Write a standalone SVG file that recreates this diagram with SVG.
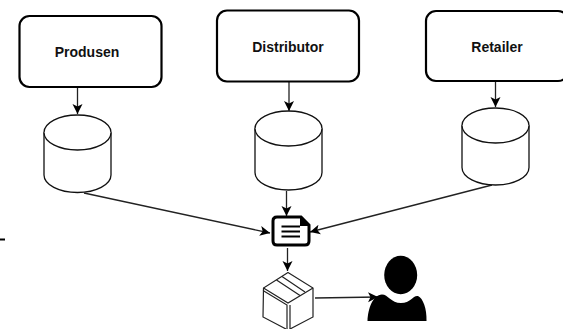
<svg xmlns="http://www.w3.org/2000/svg" width="563" height="329" viewBox="0 0 563 329">
<style>
.box{fill:#fff;stroke:#000;stroke-width:2.2}
.cyl{fill:#fff;stroke:#111;stroke-width:1.3}
.lbl{font-family:"Liberation Sans",Arial,sans-serif;font-weight:700;font-size:14px;fill:#111;text-anchor:middle}
.con{fill:none;stroke:#222;stroke-width:1.3}
.thin{fill:none;stroke:#222;stroke-width:1.2}
</style>
<defs>
<marker id="arr" markerUnits="userSpaceOnUse" markerWidth="11" markerHeight="12" refX="10" refY="5.5" orient="auto">
<path d="M0 0.500L10 5.500L0 10.500L2.500 5.500Z" fill="#000"/>
</marker>
</defs>
<rect width="563" height="329" fill="#fff"/>
<g id="connectors">
<path class="con" marker-end="url(#arr)" d="M77.500 87V114"/>
<path class="con" marker-end="url(#arr)" d="M289 81V111"/>
<path class="con" marker-end="url(#arr)" d="M495.500 78V107"/>
<path class="con" marker-end="url(#arr)" d="M84 193L270 233"/>
<path class="con" marker-end="url(#arr)" d="M286.500 191V216"/>
<path class="con" marker-end="url(#arr)" d="M492 185L310 232"/>
<path class="con" marker-end="url(#arr)" d="M287.500 248V271"/>
<path class="con" marker-end="url(#arr)" d="M315 298L378 297"/>
</g>
<g id="produsen"><rect class="box" x="19.500" y="16" width="142" height="71" rx="10"/><text class="lbl" x="87" y="56.500">Produsen</text></g>
<g id="distributor"><rect class="box" x="217" y="10.500" width="142" height="71" rx="10"/><text class="lbl" x="288" y="52">Distributor</text></g>
<g id="retailer"><rect class="box" x="426" y="11" width="142" height="70" rx="10"/><text class="lbl" x="497" y="52">Retailer</text></g>
<g id="db1"><path class="cyl" d="M44 132.500A33.500 17.500 0 0 1 111 132.500V175A33.500 17.500 0 0 1 44 175Z"/><path class="cyl" d="M44 132.500A33.500 17.500 0 0 0 111 132.500"/></g>
<g id="db2"><path class="cyl" d="M255 128.500A33.500 17.500 0 0 1 322 128.500V172.500A33.500 17.500 0 0 1 255 172.500Z"/><path class="cyl" d="M255 128.500A33.500 17.500 0 0 0 322 128.500"/></g>
<g id="db3"><path class="cyl" d="M462 125.500A33.500 17.500 0 0 1 529 125.500V167.500A33.500 17.500 0 0 1 462 167.500Z"/><path class="cyl" d="M462 125.500A33.500 17.500 0 0 0 529 125.500"/></g>
<g id="document">
<path d="M277 217H301L309 225V241Q309 245 305 245H277Q273 245 273 241V221Q273 217 277 217Z" fill="#fff" stroke="#000" stroke-width="3"/>
<path d="M300 216L310 226H300Z" fill="#000"/>
<path d="M281.500 226.500H300M281.500 231.500H300M281.500 236.500H300" stroke="#000" stroke-width="2.200" fill="none"/>
</g>
<g id="package">
<path class="thin" d="M288 272.500L313 288V317L290 329M288 272.500L263.500 288L263 317L286 329"/>
<path class="thin" d="M263.500 288L288 303L313 288M263 290.500L287 305V329M290 329V305"/>
<path class="thin" d="M276.500 280L300 295.500M282 276.500L305 292"/>
</g>
<g id="person">
<ellipse cx="400.700" cy="275" rx="16.500" ry="19.200" fill="#000"/>
<path d="M367.500 321C368 308 373 295 382 294.500C388 294.500 391 303 401 303C411 303 413 295 418 296C423 298 427 309 426.500 321Z" fill="#000"/>
</g>
<path id="edge-mark" d="M0 239.500H5" stroke="#000" stroke-width="2"/>
</svg>
